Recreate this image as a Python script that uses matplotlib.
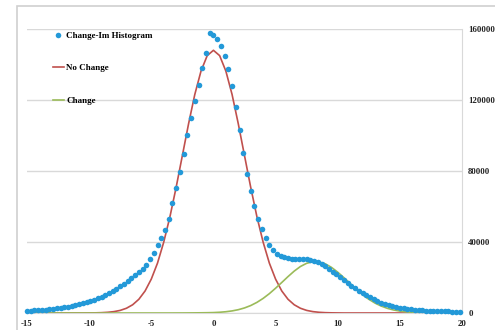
import numpy as np
import matplotlib
matplotlib.use("Agg")
import matplotlib.pyplot as plt
from matplotlib.patches import Rectangle

# ---- data ----
hist_start, hist_step = -15.0, 0.3
hist_values = [
    1250, 1350, 1450, 1600, 1750, 1900, 2100, 2350, 2650, 2950,
    3250, 3550, 3900, 4300, 4800, 5400, 6100, 6700, 7400, 8200,
    9100, 10100, 11200, 12400, 13700, 15000, 16400, 18200, 19800, 21400,
    22900, 24700, 27200, 30200, 33800, 38200, 42400, 46600, 53000, 61800,
    70600, 79600, 89300, 100200, 109900, 119200, 128300, 138200, 146600, 157800,
    156500, 154600, 150600, 144900, 137500, 127900, 116000, 103300, 89900, 78200,
    68700, 60400, 53200, 47100, 42500, 38400, 35400, 33200, 32000, 31300,
    30800, 30400, 30300, 30300, 30300, 30200, 29900, 29500, 28900, 27600,
    26300, 25000, 23300, 21700, 20100, 18500, 17000, 15400, 13900, 12500,
    11200, 9900, 8800, 7800, 6800, 5900, 5100, 4450, 3900, 3450,
    3050, 2750, 2450, 2150, 1900, 1700, 1500, 1300, 1200, 1100,
    1000, 950, 900, 850, 800, 750, 730,
]
hist_x = np.round(hist_start + hist_step * np.arange(len(hist_values)), 2)

curve_x = [-15.0 + 0.5 * i for i in range(71)]
no_change = [
    0, 0, 0, 0, 0, 0, 0, 0, 0, 0,          # -15 .. -10.5
    40, 90, 190, 400, 780, 1470, 2670, 4640, 7740, 12400,   # -10 .. -5.5
    19100, 28100, 39900, 54200, 70800, 88700, 106600, 123100, 136300, 145000,  # -5 .. -0.5
    148000,                                 # 0
    145000, 136300, 123100, 106600, 88700, 70800, 54200, 39900, 28100, 19100,  # 0.5 .. 5
    12400, 7740, 4640, 2670, 1470, 780, 400, 190, 90, 40,   # 5.5 .. 10
    0, 0, 0, 0, 0, 0, 0, 0, 0, 0,          # 10.5 .. 15
    0, 0, 0, 0, 0, 0, 0, 0, 0, 0,          # 15.5 .. 20
]
change = [
    0, 0, 0, 0, 0, 0, 0, 0, 0, 0,          # -15 .. -10.5
    0, 0, 0, 0, 0, 0, 0, 0, 0, 0,          # -10 .. -5.5
    0, 0, 0, 0, 10, 20, 40, 70, 110, 160,  # -5 .. -0.5
    240,                                    # 0
    420, 715, 1175, 1860, 2850, 4200, 5990, 8230, 10900, 13960,  # 0.5 .. 5
    17200, 20500, 23600, 26200, 28000, 28900, 28800, 27700, 25700, 23000,  # 5.5 .. 10
    19900, 16600, 13300, 10300, 7740, 5590, 3900, 2620, 1700, 1070,  # 10.5 .. 15
    645, 375, 210, 115, 60, 30, 15, 5, 0, 0,  # 15.5 .. 20
]
labels = ["Change-Im Histogram", "No Change", "Change"]
x_ticks = [-15, -10, -5, 0, 5, 10, 15, 20]
y_ticks = [0, 40000, 80000, 120000, 160000]

# ---- figure ----
fig = plt.figure(figsize=(4.95, 3.30), dpi=100)
fig.patches.append(Rectangle((17 / 495, -0.1), 1.0, 1 - 6 / 330 + 0.1,
                             transform=fig.transFigure, fill=False,
                             edgecolor="#d0d0d0", linewidth=1.2))

ax = fig.add_axes([27 / 495, 17 / 330, 435 / 495, 284 / 330])
ax.set_xlim(-15, 20)
ax.set_ylim(0, 160000)

ax.plot(curve_x, no_change, color="#C0504D", lw=1.2, label=labels[1], zorder=3)
ax.plot(curve_x, change, color="#9BBB59", lw=1.2, label=labels[2], zorder=3)
ax.plot(hist_x, hist_values, linestyle="none", marker="o", markersize=4.0,
        markeredgewidth=0, color="#2399D8", label=labels[0], zorder=4,
        clip_on=False)

ax.set_xticks(x_ticks)
ax.set_yticks(y_ticks)
ax.set_xticklabels([str(t) for t in x_ticks])
ax.set_yticklabels([str(t) for t in y_ticks])
ax.yaxis.tick_right()
ax.tick_params(axis="both", length=0, labelsize=6.3)
ax.tick_params(axis="x", pad=5)
ax.tick_params(axis="y", pad=4.5)
for lab in ax.get_xticklabels() + ax.get_yticklabels():
    lab.set_fontfamily("Liberation Serif")
    lab.set_fontweight("bold")
    lab.set_color("#222222")
for lab in ax.get_yticklabels():
    lab.set_horizontalalignment("left")

ax.grid(axis="y", color="#d9d9d9", lw=1.0)
ax.set_axisbelow(True)
for s in ["left", "top"]:
    ax.spines[s].set_visible(False)
ax.spines["right"].set_color("#d9d9d9")
ax.spines["bottom"].set_color("#d9d9d9")

h, l = ax.get_legend_handles_labels()
order = [2, 0, 1]
leg = ax.legend([h[i] for i in order], [l[i] for i in order],
                loc="upper left", bbox_to_anchor=(0.04, 1.02), frameon=False,
                labelspacing=2.7, handlelength=1.3, handletextpad=0.2,
                prop={"family": "Liberation Serif", "weight": "bold", "size": 6.5})

fig.savefig("out.png", dpi=100)
